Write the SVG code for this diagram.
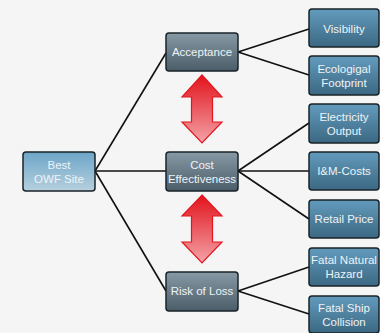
<svg xmlns="http://www.w3.org/2000/svg" width="380" height="333" viewBox="0 0 380 333">
<defs>
<linearGradient id="gGray" x1="0" y1="0" x2="0" y2="1"><stop offset="0" stop-color="#8799a5"/><stop offset="1" stop-color="#4a5d69"/></linearGradient>
<linearGradient id="gBlue" x1="0" y1="0" x2="0" y2="1"><stop offset="0" stop-color="#639bbd"/><stop offset="1" stop-color="#3b6882"/></linearGradient>
<linearGradient id="gLight" x1="0" y1="0" x2="0" y2="1"><stop offset="0" stop-color="#6ca5c8"/><stop offset="1" stop-color="#b6d0de"/></linearGradient>
<linearGradient id="gRed" x1="0" y1="0" x2="0" y2="1"><stop offset="0" stop-color="#e2121b"/><stop offset="1" stop-color="#f3a3a8"/></linearGradient>
<style>
.box{stroke:#1a2329;stroke-width:1.5}
.gray{fill:url(#gGray)}
.blue{fill:url(#gBlue)}
.light{fill:url(#gLight)}
text{font-family:"Liberation Sans",Arial,sans-serif;font-size:11.5px;fill:#eef3f6;text-anchor:middle}
.con line{stroke:#111;stroke-width:1.6}
.arrow{fill:url(#gRed);stroke:#e3161f;stroke-width:1.2;stroke-linejoin:miter}
</style>
</defs>
<rect width="380" height="333" fill="#f5f5f5"/>
<g class="con" id="connectors">
<line x1="95" y1="171" x2="166" y2="53"/>
<line x1="95" y1="171" x2="166" y2="171"/>
<line x1="95" y1="171" x2="166" y2="291"/>
<line x1="238" y1="52" x2="309" y2="29"/>
<line x1="238" y1="52" x2="309" y2="75"/>
<line x1="238" y1="171" x2="309" y2="123"/>
<line x1="238" y1="171" x2="309" y2="171"/>
<line x1="238" y1="171" x2="309" y2="219"/>
<line x1="238" y1="291" x2="309" y2="267"/>
<line x1="238" y1="291" x2="309" y2="314"/>
</g>
<g id="arrow1"><path class="arrow" d="M202,75 L222,97 L212.5,97 L212.5,122 L222,122 L202,143 L182,122 L191.5,122 L191.5,97 L182,97 Z"/></g>
<g id="arrow2"><path class="arrow" d="M202,195 L222,216 L212.5,216 L212.5,242 L222,242 L202,263 L182,242 L191.5,242 L191.5,216 L182,216 Z"/></g>
<g id="best"><rect class="box light" x="23" y="152" width="72" height="39" rx="3"/><text x="59" y="169">Best</text><text x="59" y="183">OWF Site</text></g>
<g id="acceptance"><rect class="box gray" x="166" y="33" width="72" height="38" rx="3"/><text x="202" y="56">Acceptance</text></g>
<g id="cost"><rect class="box gray" x="166" y="152" width="72" height="39" rx="3"/><text x="202" y="169">Cost</text><text x="202" y="183">Effectiveness</text></g>
<g id="risk"><rect class="box gray" x="166" y="272" width="72" height="39" rx="3"/><text x="202" y="295">Risk of Loss</text></g>
<g id="visibility"><rect class="box blue" x="309" y="9" width="70" height="38" rx="3"/><text x="344" y="33">Visibility</text></g>
<g id="ecological"><rect class="box blue" x="309" y="56" width="70" height="39" rx="3"/><text x="344" y="73">Ecologigal</text><text x="344" y="87">Footprint</text></g>
<g id="electricity"><rect class="box blue" x="309" y="104" width="70" height="39" rx="3"/><text x="344" y="121">Electricity</text><text x="344" y="135">Output</text></g>
<g id="im"><rect class="box blue" x="309" y="152" width="70" height="38" rx="3"/><text x="344" y="175">I&amp;M-Costs</text></g>
<g id="retail"><rect class="box blue" x="309" y="200" width="70" height="38" rx="3"/><text x="344" y="223">Retail Price</text></g>
<g id="natural"><rect class="box blue" x="309" y="248" width="70" height="38" rx="3"/><text x="344" y="264">Fatal Natural</text><text x="344" y="278">Hazard</text></g>
<g id="ship"><rect class="box blue" x="309" y="296" width="70" height="37" rx="3"/><text x="344" y="312">Fatal Ship</text><text x="344" y="326">Collision</text></g>
</svg>
